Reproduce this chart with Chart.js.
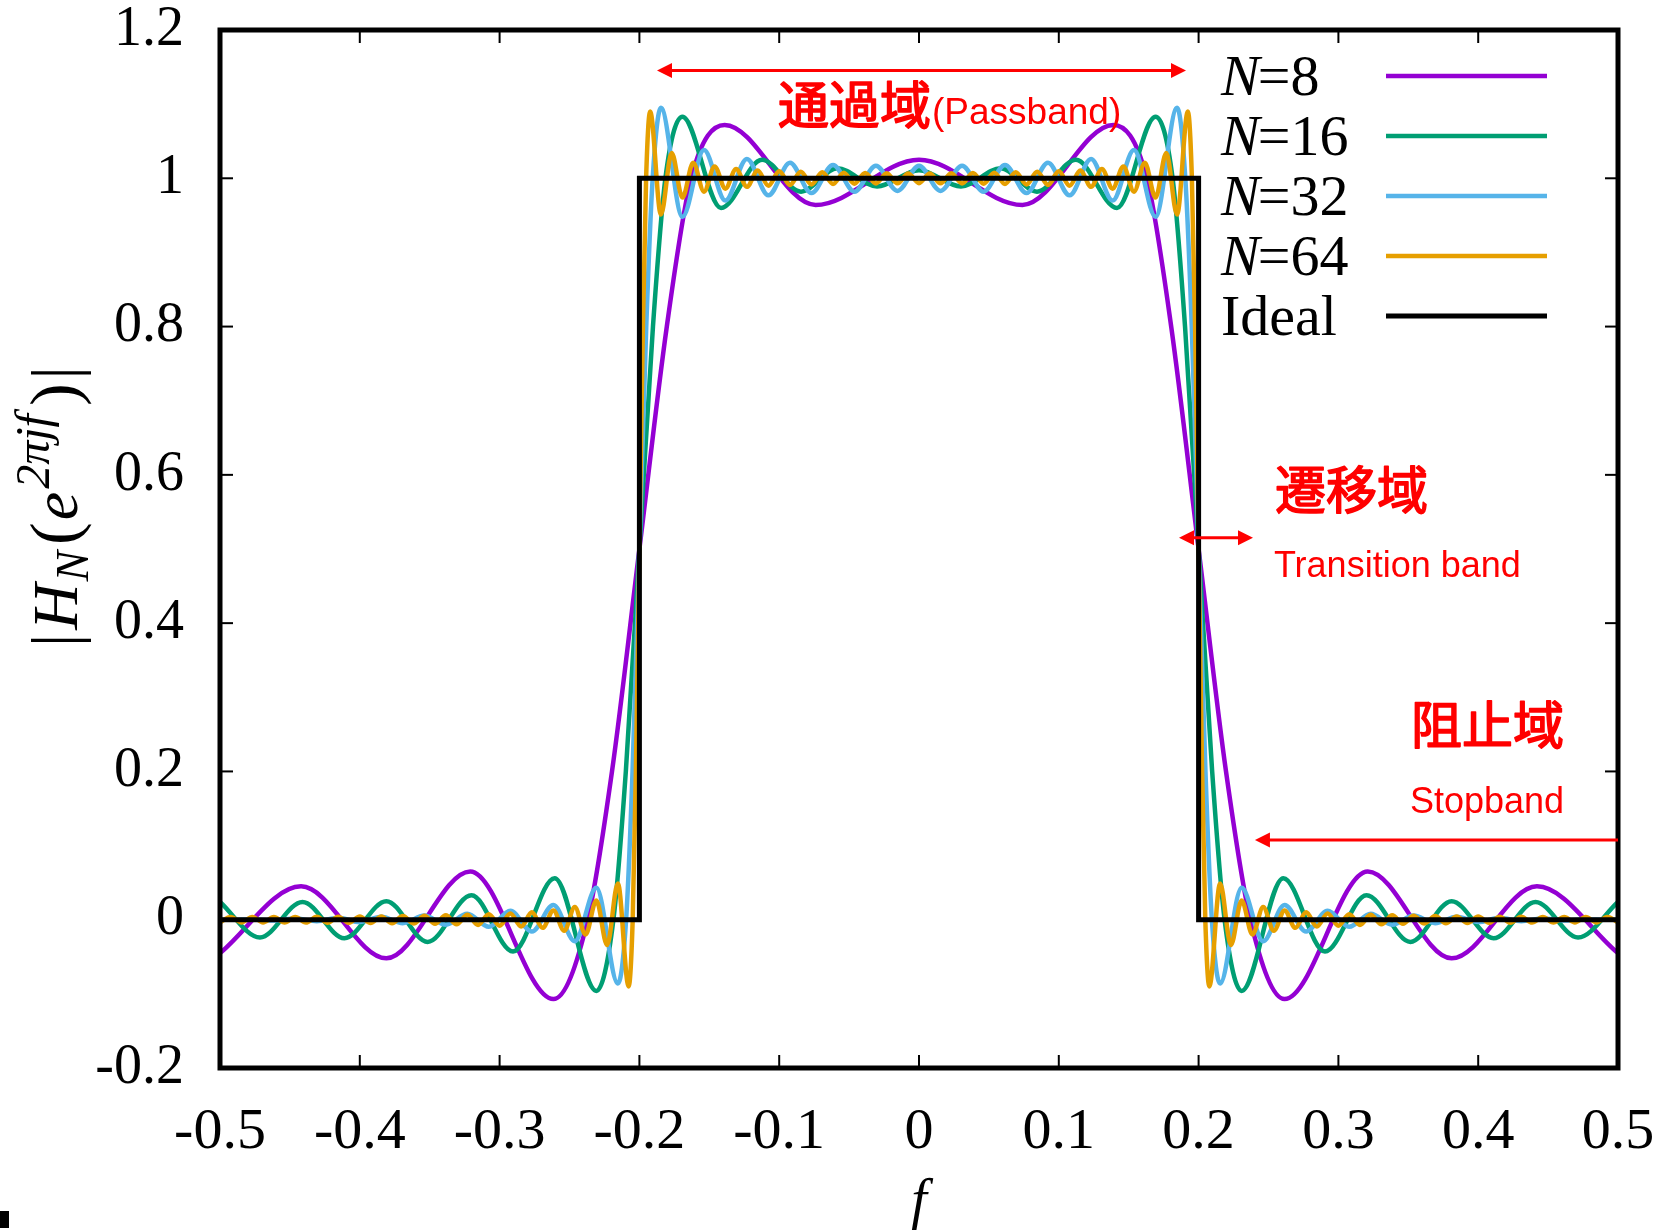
<!DOCTYPE html>
<html lang="ja">
<head>
<meta charset="UTF-8">
<title>|H_N(e^{2πjf})|</title>
<script src="https://cdn.jsdelivr.net/npm/chart.js"></script>
<style>
  html, body { margin: 0; padding: 0; background: #fff; }
  #wrap { width: 1680px; height: 1232px; }
</style>
</head>
<body>
<div id="wrap"><canvas id="grafico" width="1680" height="1232"></canvas></div>
<script>
// eixos
const xTickValues = [-0.5, -0.4, -0.3, -0.2, -0.1, 0, 0.1, 0.2, 0.3, 0.4, 0.5];
const xTickLabels = ['-0.5', '-0.4', '-0.3', '-0.2', '-0.1', '0', '0.1', '0.2', '0.3', '0.4', '0.5'];
const yTickValues = [-0.2, 0, 0.2, 0.4, 0.6, 0.8, 1, 1.2];
const yTickLabels = ['-0.2', '0', '0.2', '0.4', '0.6', '0.8', '1', '1.2'];

// N=8 (extremos)
const f8 = [-0.5, -0.442, -0.381, -0.321, -0.2615, -0.237, -0.2196, -0.2, -0.1804, -0.163, -0.139, -0.074,
  0, 0.074, 0.139, 0.163, 0.1804, 0.2, 0.2196, 0.237, 0.2615, 0.321, 0.381, 0.442, 0.5];
const h8 = [-0.045, 0.045, -0.052, 0.065, -0.107, 0.0, 0.2, 0.5, 0.8, 1.0, 1.072, 0.964,
  1.025, 0.964, 1.072, 1.0, 0.8, 0.5, 0.2, 0.0, -0.107, 0.065, -0.052, 0.045, -0.045];

// N=16
const f16 = [-0.5, -0.4714, -0.441, -0.411, -0.381, -0.3515, -0.3201, -0.2904, -0.2606, -0.2308,
  -0.2186, -0.2097, -0.2, -0.1903, -0.1814,
  -0.1692, -0.1416, -0.1123, -0.0844, -0.0586, -0.03,
  0,
  0.03, 0.0586, 0.0844, 0.1123, 0.1416, 0.1692,
  0.1814, 0.1903, 0.2, 0.2097, 0.2186,
  0.2308, 0.2606, 0.2904, 0.3201, 0.3515, 0.381, 0.411, 0.441, 0.4714, 0.5];
const h16 = [0.024, -0.024, 0.024, -0.025, 0.025, -0.030, 0.033, -0.043, 0.056, -0.096,
  0.0, 0.2, 0.5, 0.8, 1.0,
  1.083, 0.960, 1.025, 0.982, 1.0135, 0.989,
  1.011,
  0.989, 1.0135, 0.982, 1.025, 0.960, 1.083,
  1.0, 0.8, 0.5, 0.2, 0.0,
  -0.096, 0.056, -0.043, 0.033, -0.030, 0.025, -0.025, 0.024, -0.024, 0.024];

// N=32
const f32 = [-0.5, -0.4923, -0.4769, -0.4615, -0.4462, -0.4308, -0.4154, -0.4, -0.3846, -0.3692,
  -0.3538, -0.3385, -0.3231, -0.3077, -0.2923, -0.2769, -0.2615, -0.2462, -0.2308, -0.2154,
  -0.2095, -0.2049, -0.2, -0.1951, -0.1905,
  -0.1846, -0.1692, -0.1538, -0.1385, -0.1231, -0.1077, -0.0923, -0.0769, -0.0615, -0.0462, -0.0308, -0.0154,
  0,
  0.0154, 0.0308, 0.0462, 0.0615, 0.0769, 0.0923, 0.1077, 0.1231, 0.1385, 0.1538, 0.1692, 0.1846,
  0.1905, 0.1951, 0.2, 0.2049, 0.2095,
  0.2154, 0.2308, 0.2462, 0.2615, 0.2769, 0.2923, 0.3077, 0.3231, 0.3385, 0.3538,
  0.3692, 0.3846, 0.4, 0.4154, 0.4308, 0.4462, 0.4615, 0.4769, 0.4923, 0.5];
const h32 = [0.0, -0.0002, 0.0006, -0.0011, 0.0015, -0.002, 0.0025, -0.0032, 0.0039, -0.0047,
  0.0056, -0.0068, 0.008, -0.0095, 0.012, -0.016, 0.020, -0.029, 0.043, -0.086,
  0.0, 0.2, 0.5, 0.8, 1.0,
  1.095, 0.948, 1.038, 0.970, 1.026, 0.977, 1.021, 0.980, 1.018, 0.982, 1.017, 0.983,
  1.017,
  0.983, 1.017, 0.982, 1.018, 0.980, 1.021, 0.977, 1.026, 0.970, 1.038, 0.948, 1.095,
  1.0, 0.8, 0.5, 0.2, 0.0,
  -0.086, 0.043, -0.029, 0.020, -0.016, 0.012, -0.0095, 0.008, -0.0068, 0.0056,
  -0.0047, 0.0039, -0.0032, 0.0025, -0.002, 0.0015, -0.0011, 0.0006, -0.0002, 0.0];

// N=64
const f64 = [-0.5, -0.4923, -0.4846, -0.4769, -0.4692, -0.4615, -0.4538, -0.4462, -0.4385, -0.4308,
  -0.4231, -0.4154, -0.4077, -0.4, -0.3923, -0.3846, -0.3769, -0.3692, -0.3615, -0.3538,
  -0.3462, -0.3385, -0.3308, -0.3231, -0.3154, -0.3077, -0.3, -0.2923, -0.2846, -0.2769,
  -0.2692, -0.2615, -0.2538, -0.2462, -0.2385, -0.2308, -0.2231, -0.2154, -0.2077,
  -0.2048, -0.2025, -0.2, -0.1975, -0.1952,
  -0.1923, -0.1846, -0.1769, -0.1692, -0.1615, -0.1538, -0.1462, -0.1385, -0.1308, -0.1231,
  -0.1154, -0.1077, -0.1, -0.0923, -0.0846, -0.0769, -0.0692, -0.0615, -0.0538, -0.0462,
  -0.0385, -0.0308, -0.0231, -0.0154, -0.0077,
  0,
  0.0077, 0.0154, 0.0231, 0.0308, 0.0385, 0.0462, 0.0538, 0.0615, 0.0692, 0.0769,
  0.0846, 0.0923, 0.1, 0.1077, 0.1154, 0.1231, 0.1308, 0.1385, 0.1462, 0.1538,
  0.1615, 0.1692, 0.1769, 0.1846, 0.1923,
  0.1952, 0.1975, 0.2, 0.2025, 0.2048,
  0.2077, 0.2154, 0.2231, 0.2308, 0.2385, 0.2462, 0.2538, 0.2615, 0.2692, 0.2769,
  0.2846, 0.2923, 0.3, 0.3077, 0.3154, 0.3231, 0.3308, 0.3385, 0.3462, 0.3538,
  0.3615, 0.3692, 0.3769, 0.3846, 0.3923, 0.4, 0.4077, 0.4154, 0.4231, 0.4308,
  0.4385, 0.4462, 0.4538, 0.4615, 0.4692, 0.4769, 0.4846, 0.4923, 0.5];
const h64 = [-0.0035, 0.0036, -0.0036, 0.0036, -0.0036, 0.0037, -0.0037, 0.0038, -0.0038, 0.0039,
  -0.004, 0.0041, -0.0042, 0.0043, -0.0044, 0.0045, -0.0047, 0.0049, -0.0051, 0.0053,
  -0.0056, 0.0059, -0.0062, 0.0066, -0.007, 0.0074, -0.008, 0.0085, -0.0092, 0.010,
  -0.011, 0.0125, -0.015, 0.017, -0.020, 0.026, -0.034, 0.049, -0.090,
  0.0, 0.2, 0.5, 0.8, 1.0,
  1.090, 0.951, 1.034, 0.974, 1.021, 0.982, 1.016, 0.986, 1.0125, 0.9885,
  1.0105, 0.990, 1.0095, 0.991, 1.0087, 0.9917, 1.008, 0.9923, 1.0075, 0.9927,
  1.0071, 0.993, 1.0069, 0.9932, 1.0066,
  0.9934,
  1.0066, 0.9932, 1.0069, 0.993, 1.0071, 0.9927, 1.0075, 0.9923, 1.008, 0.9917,
  1.0087, 0.991, 1.0095, 0.990, 1.0105, 0.9885, 1.0125, 0.986, 1.016, 0.982,
  1.021, 0.974, 1.034, 0.951, 1.090,
  1.0, 0.8, 0.5, 0.2, 0.0,
  -0.090, 0.049, -0.034, 0.026, -0.020, 0.017, -0.015, 0.0125, -0.011, 0.010,
  -0.0092, 0.0085, -0.008, 0.0074, -0.007, 0.0066, -0.0062, 0.0059, -0.0056, 0.0053,
  -0.0051, 0.0049, -0.0047, 0.0045, -0.0044, 0.0043, -0.0042, 0.0041, -0.004, 0.0039,
  -0.0038, 0.0038, -0.0037, 0.0037, -0.0036, 0.0036, -0.0036, 0.0036, -0.0035];

// filtro ideal
const fIdeal = [-0.5, -0.2, -0.2, 0.2, 0.2, 0.5];
const hIdeal = [0, 0, 1, 1, 0, 0];

const serieNomes = ['8', '16', '32', '64', 'Ideal'];
const serieCores = ['#9400D3', '#009E73', '#56B4E9', '#E69F00', '#000000'];

// anotacoes em vermelho (posicoes em unidades dos eixos)
const setas = [
  { f0: -0.1874, f1: 0.191, y: 1.1454, duas: true },
  { f0: 0.186, f1: 0.2389, y: 0.5152, duas: true },
  { f0: 0.5, f1: 0.2403, y: 0.1075, duas: false }
];
const textos = [
  { t: '通過域', f: -0.1009, y: 1.099, fonte: '51px "Noto Sans CJK JP"', base: 'middle', traco: 1.6 },
  { t: '(Passband)', f: 0.0093, y: 1.0733, fonte: '37px "Liberation Sans"', base: 'alphabetic', traco: 0 },
  { t: '遷移域', f: 0.2547, y: 0.5796, fonte: '51px "Noto Sans CJK JP"', base: 'middle', traco: 1.6 },
  { t: 'Transition band', f: 0.2539, y: 0.4622, fonte: '36px "Liberation Sans"', base: 'alphabetic', traco: 0 },
  { t: '阻止域', f: 0.3519, y: 0.2626, fonte: '51px "Noto Sans CJK JP"', base: 'middle', traco: 1.6 },
  { t: 'Stopband', f: 0.3512, y: 0.1439, fonte: '36px "Liberation Sans"', base: 'alphabetic', traco: 0 }
];

function juntar(fs, hs) {
  let pts = [];
  for (let i = 0; i < fs.length; i++) {
    pts.push({ x: fs[i], y: hs[i] });
  }
  return pts;
}

function linha(ctx, x0, y0, x1, y1) {
  ctx.beginPath();
  ctx.moveTo(x0, y0);
  ctx.lineTo(x1, y1);
  ctx.stroke();
}

function ponta(ctx, xTip, y, dir) {
  // dir = -1 aponta para a esquerda, +1 para a direita
  ctx.beginPath();
  ctx.moveTo(xTip, y);
  ctx.lineTo(xTip - dir * 15, y - 7.5);
  ctx.lineTo(xTip - dir * 15, y + 7.5);
  ctx.closePath();
  ctx.fill();
}

// moldura e marcas dos eixos (para dentro, nos quatro lados)
const moldura = {
  id: 'moldura',
  afterDatasetsDraw(chart) {
    const ctx = chart.ctx;
    const a = chart.chartArea;
    const x = chart.scales.x, y = chart.scales.y;
    ctx.save();
    ctx.strokeStyle = '#000';
    ctx.lineWidth = 2;
    xTickValues.forEach(function (v) {
      const px = x.getPixelForValue(v);
      linha(ctx, px, a.bottom, px, a.bottom - 13);
      linha(ctx, px, a.top, px, a.top + 13);
    });
    yTickValues.forEach(function (v) {
      const py = y.getPixelForValue(v);
      linha(ctx, a.left, py, a.left + 13, py);
      linha(ctx, a.right, py, a.right - 13, py);
    });
    ctx.lineWidth = 5;
    ctx.strokeRect(a.left, a.top, a.right - a.left, a.bottom - a.top);
    ctx.restore();
  }
};

// setas e textos vermelhos
const anotacoes = {
  id: 'anotacoes',
  afterDraw(chart) {
    const ctx = chart.ctx;
    const x = chart.scales.x, y = chart.scales.y;
    ctx.save();
    ctx.strokeStyle = '#FF0000';
    ctx.fillStyle = '#FF0000';
    ctx.lineWidth = 3;
    setas.forEach(function (s) {
      const x0 = x.getPixelForValue(s.f0), x1 = x.getPixelForValue(s.f1);
      const py = y.getPixelForValue(s.y);
      const d = x1 > x0 ? 1 : -1;
      linha(ctx, s.duas ? x0 + d * 10 : x0, py, x1 - d * 10, py);
      ponta(ctx, x1, py, d);
      if (s.duas) ponta(ctx, x0, py, -d);
    });
    ctx.textAlign = 'left';
    ctx.lineJoin = 'round';
    textos.forEach(function (t) {
      const px = x.getPixelForValue(t.f), py = y.getPixelForValue(t.y);
      ctx.font = t.fonte;
      ctx.textBaseline = t.base;
      ctx.fillText(t.t, px, py);
      if (t.traco > 0) {
        // engrossa um pouco o traco dos caracteres japoneses
        ctx.lineWidth = t.traco;
        ctx.strokeText(t.t, px, py);
      }
    });
    ctx.restore();
  }
};

// legenda com N em italico
const legenda = {
  id: 'legenda',
  afterDraw(chart) {
    const ctx = chart.ctx;
    ctx.save();
    ctx.fillStyle = '#000';
    ctx.textBaseline = 'alphabetic';
    ctx.textAlign = 'left';
    for (let i = 0; i < serieNomes.length; i++) {
      const base = 95 + i * 60;
      let xx = 1221;
      if (serieNomes[i] === 'Ideal') {
        ctx.font = '58px "Liberation Serif"';
        ctx.fillText('Ideal', xx, base);
      } else {
        ctx.font = 'italic 58px "Liberation Serif"';
        ctx.fillText('N', xx, base);
        xx += ctx.measureText('N').width - 2;
        ctx.font = '58px "Liberation Serif"';
        ctx.fillText('=' + serieNomes[i], xx, base);
      }
      ctx.strokeStyle = serieCores[i];
      ctx.lineWidth = i === 4 ? 5 : 4.5;
      linha(ctx, 1386, base - 19, 1547, base - 19);
    }
    ctx.restore();
  }
};

// titulos dos eixos
const titulos = {
  id: 'titulos',
  afterDraw(chart) {
    const ctx = chart.ctx;
    ctx.save();
    ctx.fillStyle = '#000';
    ctx.textAlign = 'left';
    ctx.textBaseline = 'alphabetic';
    ctx.font = 'italic 56px "Liberation Serif"';
    ctx.fillText('f', 919 - ctx.measureText('f').width / 2, 1218);

    ctx.translate(77, 647);
    ctx.rotate(-Math.PI / 2);
    const partes = [
      ['|', '66px "Liberation Serif"', 0, 4],
      ['H', 'italic 64px "Liberation Serif"', 0, 2],
      ['N', 'italic 46px "Liberation Serif"', 11, 6],
      ['(', '68px "Liberation Serif"', 0, 2],
      ['e', 'italic 64px "Liberation Serif"', 0, 3],
      ['2πjf', 'italic 48px "Liberation Serif"', -28, 8],
      [')', '68px "Liberation Serif"', 0, 4],
      ['|', '66px "Liberation Serif"', 0, 0]
    ];
    let px = 0;
    partes.forEach(function (p) {
      ctx.font = p[1];
      ctx.fillText(p[0], px, p[2]);
      px += ctx.measureText(p[0]).width + p[3];
    });
    ctx.restore();
    ctx.fillRect(0, 1211, 9, 17);
  }
};

function criarSerie(i, fs, hs, ordem) {
  return {
    label: serieNomes[i],
    data: juntar(fs, hs),
    borderColor: serieCores[i],
    borderWidth: i === 4 ? 5 : 4.5,
    pointRadius: 0,
    fill: false,
    cubicInterpolationMode: i === 4 ? 'default' : 'monotone',
    tension: 0,
    order: ordem
  };
}

const config = {
  type: 'line',
  data: {
    datasets: [
      criarSerie(0, f8, h8, 5),
      criarSerie(1, f16, h16, 4),
      criarSerie(2, f32, h32, 3),
      criarSerie(3, f64, h64, 2),
      criarSerie(4, fIdeal, hIdeal, 1)
    ]
  },
  options: {
    responsive: false,
    animation: false,
    devicePixelRatio: 1,
    layout: { padding: { left: 0, top: 30, right: 62, bottom: 0 } },
    plugins: { legend: { display: false }, tooltip: { enabled: false } },
    scales: {
      x: {
        type: 'linear',
        min: -0.5,
        max: 0.5,
        grid: { display: false, drawTicks: false, tickLength: 0 },
        border: { display: false },
        afterBuildTicks: function (s) { s.ticks = xTickValues.map(v => ({ value: v })); },
        afterFit: function (s) {
          s.height = 164;
          s.paddingLeft = 0;
          s.paddingRight = 0;
        },
        ticks: {
          autoSkip: false,
          maxRotation: 0,
          minRotation: 0,
          padding: 30,
          color: '#000',
          font: { family: 'Liberation Serif', size: 58 },
          callback: function (v, i) { return xTickLabels[i]; }
        }
      },
      y: {
        type: 'linear',
        min: -0.2,
        max: 1.2,
        grid: { display: false, drawTicks: false, tickLength: 0 },
        border: { display: false },
        afterBuildTicks: function (s) { s.ticks = yTickValues.map(v => ({ value: v })); },
        afterFit: function (s) {
          s.width = 220;
          s.paddingTop = 0;
          s.paddingBottom = 0;
        },
        ticks: {
          autoSkip: false,
          padding: 36,
          color: '#000',
          font: { family: 'Liberation Serif', size: 56 },
          callback: function (v, i) { return yTickLabels[i]; }
        }
      }
    }
  },
  plugins: [moldura, anotacoes, legenda, titulos]
};

const grafico = new Chart(document.getElementById('grafico'), config);
</script>
</body>
</html>
